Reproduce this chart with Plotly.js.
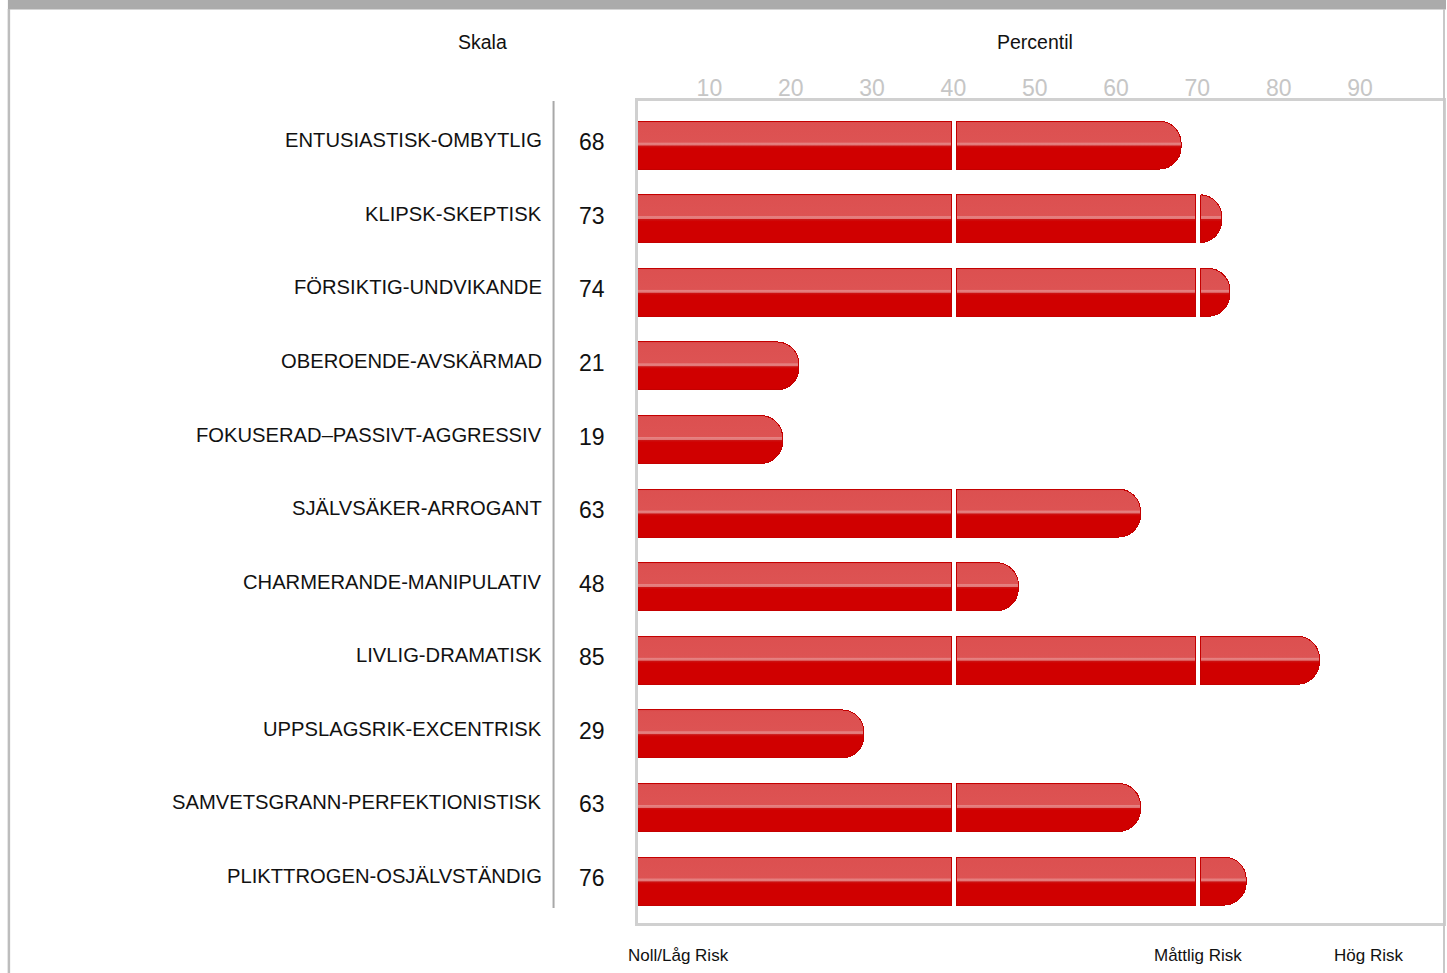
<!DOCTYPE html>
<html>
<head>
<meta charset="utf-8">
<script src="https://cdn.plot.ly/plotly-3.0.1.min.js"></script>
<style>
  html, body { margin: 0; padding: 0; background: #ffffff; }
  #chart { width: 1447px; height: 973px; }
</style>
</head>
<body>
<div id="chart"></div>
<script>
// ---------------- DATA ----------------
const categories = [
  "ENTUSIASTISK-OMBYTLIG",
  "KLIPSK-SKEPTISK",
  "FÖRSIKTIG-UNDVIKANDE",
  "OBEROENDE-AVSKÄRMAD",
  "FOKUSERAD–PASSIVT-AGGRESSIV",
  "SJÄLVSÄKER-ARROGANT",
  "CHARMERANDE-MANIPULATIV",
  "LIVLIG-DRAMATISK",
  "UPPSLAGSRIK-EXCENTRISK",
  "SAMVETSGRANN-PERFEKTIONISTISK",
  "PLIKTTROGEN-OSJÄLVSTÄNDIG"
];
const percentiles = [68, 73, 74, 21, 19, 63, 48, 85, 29, 63, 76];
const tickValues = [10, 20, 30, 40, 50, 60, 70, 80, 90];
const tickLabels = ["10", "20", "30", "40", "50", "60", "70", "80", "90"];
const zoneBreaks = [40, 70];            // risk-zone boundaries (percentile)
const riskLabels = ["Noll/Låg Risk", "Måttlig Risk", "Hög Risk"];
const headerLabels = ["Skala", "Percentil"];

// ---------------- STYLE ----------------
const FONT = "Liberation Sans, Arial, Helvetica, sans-serif";
const GAP_BEFORE = 0.2, GAP_AFTER = 0.4;   // white gap around zone breaks
const BAR_W = 0.652;
const RADIUS = 22;
const BASE_COLOR = "#d41c1c";
const EDGE = { color: "#c40000", width: 1 };

// Build stacked zone segments (with transparent gaps) from the data
const seg = [[], [], [], [], []];   // zone1, gap1, zone2, gap2, zone3
percentiles.forEach(v => {
  const b1 = zoneBreaks[0], b2 = zoneBreaks[1];
  if (v <= b1) {
    seg[0].push(v); seg[1].push(null); seg[2].push(null); seg[3].push(null); seg[4].push(null);
  } else {
    const z1 = b1 - GAP_BEFORE;
    seg[0].push(z1);
    seg[1].push(GAP_BEFORE + GAP_AFTER);
    const s2 = b1 + GAP_AFTER;
    if (v <= b2) {
      seg[2].push(v - s2); seg[3].push(null); seg[4].push(null);
    } else {
      seg[2].push(b2 - GAP_BEFORE - s2);
      seg[3].push(GAP_BEFORE + GAP_AFTER);
      seg[4].push(v - (b2 + GAP_AFTER));
    }
  }
});
const isGap = [false, true, false, true, false];
const traces = seg.map((xs, k) => ({
  type: "bar", orientation: "h",
  y: categories, x: xs,
  width: BAR_W,
  marker: isGap[k]
    ? { color: "rgba(255,255,255,0)", line: { width: 0 }, cornerradius: RADIUS }
    : { color: BASE_COLOR, line: EDGE, cornerradius: RADIUS },
  hoverinfo: "skip", showlegend: false
}));

// ---------------- LAYOUT ----------------
const L = 637.5, R = 4, T = 101, B = 50, WID = 1447, HEI = 973;
const PW = WID - L - R, PH = HEI - T - B;
const px = p => (p - L) / PW;          // pixel -> paper x
const py = p => (HEI - B - p) / PH;    // pixel -> paper y

const annotations = [];
categories.forEach((c, i) => {
  annotations.push({
    xref: "paper", yref: "y", x: px(543), y: c, xanchor: "right", yanchor: "middle",
    text: c, showarrow: false, yshift: 5,
    font: { family: FONT, size: 20.2, color: "#111111" }
  });
  annotations.push({
    xref: "paper", yref: "y", x: px(591), y: c, xanchor: "center", yanchor: "middle",
    text: String(percentiles[i]), showarrow: false, yshift: 3,
    font: { family: FONT, size: 23, color: "#111111" }
  });
});
[[headerLabels[0], 482], [headerLabels[1], 1035]].forEach(([t, x]) => {
  annotations.push({
    xref: "paper", yref: "paper", x: px(x), y: py(42), xanchor: "center", yanchor: "middle",
    text: t, showarrow: false, font: { family: FONT, size: 19.5, color: "#111111" }
  });
});
[678, 1198, 1368].forEach((x, i) => {
  annotations.push({
    xref: "paper", yref: "paper", x: px(x), y: py(955), xanchor: "center", yanchor: "middle",
    text: riskLabels[i], showarrow: false, font: { family: FONT, size: 17, color: "#111111" }
  });
});

const shapes = [
  // grey top band
  { type: "rect", xref: "paper", yref: "paper", x0: px(7), x1: px(1446), y0: py(9.5), y1: py(-2),
    fillcolor: "#ababab", line: { width: 0 }, layer: "above" },
  // left frame line
  { type: "line", xref: "paper", yref: "paper", x0: px(8), x1: px(8), y0: py(975), y1: py(9),
    line: { color: "#bdbdbd", width: 2.5 } },
  // right frame line
  { type: "line", xref: "paper", yref: "paper", x0: px(1444), x1: px(1444), y0: py(975), y1: py(9),
    line: { color: "#c8c8c8", width: 2 } },
  // separator between labels and values
  { type: "line", xref: "paper", yref: "paper", x0: px(553), x1: px(553), y0: py(908), y1: py(101),
    line: { color: "#a8a8a8", width: 2 } }
];

const layout = {
  width: WID, height: HEI,
  margin: { l: L, r: R, t: T, b: B, pad: 0 },
  paper_bgcolor: "#ffffff", plot_bgcolor: "#ffffff",
  barmode: "stack", barcornerradius: RADIUS, showlegend: false,
  font: { family: FONT },
  xaxis: {
    side: "top", range: [1.22, 100.2],
    tickmode: "array", tickvals: tickValues, ticktext: tickLabels,
    tickfont: { family: FONT, size: 23, color: "#c6c6c6" },
    ticklabelstandoff: -7,
    ticks: "", showgrid: false, zeroline: false,
    showline: true, mirror: true, linecolor: "#d0d0d0", linewidth: 3,
    fixedrange: true
  },
  yaxis: {
    type: "category", categoryarray: categories, categoryorder: "array",
    range: [10.57, -0.6],
    showticklabels: false, ticks: "", showgrid: false, zeroline: false,
    showline: true, mirror: true, linecolor: "#d0d0d0", linewidth: 3,
    fixedrange: true
  },
  annotations: annotations,
  shapes: shapes
};

Plotly.newPlot("chart", traces, layout, { displayModeBar: false, staticPlot: true }).then(gd => {
  // glossy two-tone fill for the bars
  const svg = gd.querySelector(".main-svg");
  const NS = "http://www.w3.org/2000/svg";
  let defs = svg.querySelector("defs");
  if (!defs) { defs = document.createElementNS(NS, "defs"); svg.insertBefore(defs, svg.firstChild); }
  const grad = document.createElementNS(NS, "linearGradient");
  grad.setAttribute("id", "barGloss");
  grad.setAttribute("x1", "0"); grad.setAttribute("y1", "0");
  grad.setAttribute("x2", "0"); grad.setAttribute("y2", "1");
  [
    [0.00, "#d94646"], [0.04, "#dc5050"], [0.44, "#dd5353"],
    [0.455, "#e58383"], [0.50, "#e27676"], [0.515, "#cc1414"],
    [0.56, "#d00000"], [1.00, "#d00000"]
  ].forEach(([o, c]) => {
    const st = document.createElementNS(NS, "stop");
    st.setAttribute("offset", o); st.setAttribute("stop-color", c);
    grad.appendChild(st);
  });
  defs.appendChild(grad);
  const traceGroups = gd.querySelectorAll(".barlayer .trace");
  traceGroups.forEach((g, k) => {
    if (isGap[k]) return;
    g.querySelectorAll(".point path").forEach(p => { p.style.fill = "url(#barGloss)"; });
  });
});
</script>
</body>
</html>
